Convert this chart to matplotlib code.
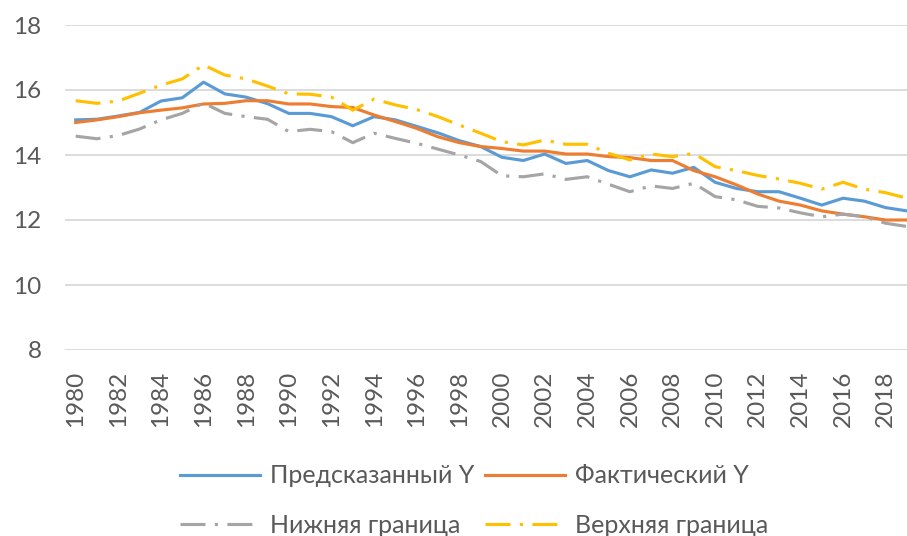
import matplotlib
matplotlib.use("Agg")
import matplotlib.pyplot as plt

years = list(range(1980, 2020))
predicted = [15.08, 15.10, 15.20, 15.31, 15.66, 15.76, 16.24, 15.88, 15.78, 15.58, 15.28, 15.28, 15.18, 14.90,
             15.18, 15.08, 14.88, 14.68, 14.44, 14.26, 13.93, 13.83, 14.03, 13.74, 13.83, 13.52, 13.33, 13.54,
             13.44, 13.62, 13.16, 12.97, 12.87, 12.87, 12.67, 12.46, 12.67, 12.58, 12.38, 12.28]
actual = [15.00, 15.08, 15.18, 15.30, 15.38, 15.45, 15.57, 15.59, 15.67, 15.67, 15.57, 15.57, 15.49, 15.46,
          15.23, 15.03, 14.82, 14.56, 14.38, 14.26, 14.20, 14.12, 14.12, 14.03, 14.03, 13.95, 13.92, 13.83,
          13.83, 13.52, 13.33, 13.08, 12.80, 12.58, 12.46, 12.28, 12.18, 12.10, 12.00, 12.00]
lower = [14.58, 14.50, 14.60, 14.80, 15.08, 15.28, 15.60, 15.28, 15.18, 15.10, 14.72, 14.79, 14.72, 14.38,
         14.67, 14.51, 14.36, 14.18, 14.00, 13.80, 13.36, 13.33, 13.42, 13.25, 13.33, 13.10, 12.87, 13.05,
         12.97, 13.13, 12.72, 12.62, 12.42, 12.37, 12.22, 12.10, 12.18, 12.10, 11.90, 11.80]
upper = [15.67, 15.59, 15.66, 15.90, 16.15, 16.34, 16.77, 16.46, 16.34, 16.12, 15.88, 15.87, 15.78, 15.38,
         15.72, 15.54, 15.40, 15.18, 14.92, 14.67, 14.41, 14.31, 14.46, 14.33, 14.33, 14.05, 13.85, 14.03,
         13.95, 14.05, 13.64, 13.52, 13.37, 13.26, 13.13, 12.95, 13.16, 12.95, 12.84, 12.67]
labels = ["Предсказанный Y", "Фактический Y", "Нижняя граница", "Верхняя граница"]
colors = ["#5B9BD5", "#ED7D31", "#A5A5A5", "#FFC000"]

plt.rcParams['font.family'] = ['Lato', 'DejaVu Sans']

W, H = 907, 536
fig = plt.figure(figsize=(W / 100, H / 100), dpi=100)
ax = fig.add_axes([65 / W, 1 - 350 / H, (W - 65) / W, 325 / H])

x = list(range(len(years)))
lw = 2.25
h_pred, = ax.plot(x, predicted, color=colors[0], lw=lw, label=labels[0], solid_joinstyle='round')
h_act, = ax.plot(x, actual, color=colors[1], lw=lw, label=labels[1], solid_joinstyle='round')
h_low, = ax.plot(x, lower, color=colors[2], lw=lw, label=labels[2], dashes=(8, 3, 1, 3))
h_up, = ax.plot(x, upper, color=colors[3], lw=lw, label=labels[3], dashes=(8, 3, 1, 3))

ax.set_ylim(8, 18)
ax.set_xlim(-0.5, 39.0)
ax.set_yticks([8, 10, 12, 14, 16, 18])
ax.set_xticks(x[::2])
ax.set_xticklabels([str(y) for y in years[::2]], rotation=90)
ax.grid(axis='y', color='#D9D9D9', lw=1.3)
ax.set_axisbelow(True)
for s in ax.spines.values():
    s.set_visible(False)
ax.tick_params(axis='both', length=0, labelsize=17.5, colors='#595959')
ax.tick_params(axis='y', pad=17)
ax.tick_params(axis='x', pad=15)

# row-wise order for a 2-column legend
handles = [h_pred, h_low, h_act, h_up]
leg = fig.legend(handles, [h.get_label() for h in handles], loc='center',
                 bbox_to_anchor=(0.5226, 0.066), bbox_transform=fig.transFigure,
                 ncol=2, frameon=False, fontsize=18, handlelength=3.2, handletextpad=0.4,
                 columnspacing=0.4, labelspacing=1.05, borderpad=0)
for t in leg.get_texts():
    t.set_color('#595959')

fig.savefig("out.png", dpi=100)
